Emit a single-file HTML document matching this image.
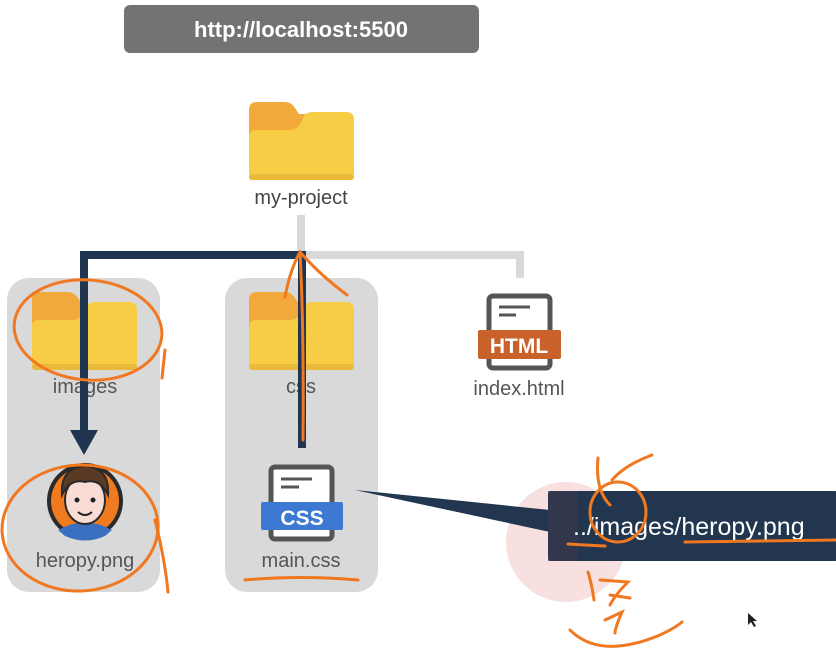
<!DOCTYPE html>
<html><head><meta charset="utf-8"><style>
html,body{margin:0;padding:0;background:#fff;}
svg{display:block;font-family:"Liberation Sans","Noto Sans CJK KR",sans-serif;}
</style></head><body>
<svg width="836" height="649" viewBox="0 0 836 649" xmlns="http://www.w3.org/2000/svg">
<defs>
<g id="folder">
<path d="M0,8 Q0,0 8,0 L36,0 Q42,0 46,6 L50,12 L97,12 Q105,12 105,20 L105,70 Q105,78 97,78 L8,78 Q0,78 0,70 Z" fill="#f2a93b"/>
<path d="M0,34 Q0,28 8,28 L40,28 Q50,28 54,16 Q56,10 64,10 L97,10 Q105,10 105,18 L105,70 Q105,78 97,78 L8,78 Q0,78 0,70 Z" fill="#f7cd45"/>
<rect x="0" y="72" width="105" height="6" rx="3" fill="#e8b93a"/>
</g>
</defs>
<!-- top label -->
<rect x="124" y="5" width="355" height="48" rx="6" fill="#737373"/>
<text x="301" y="37" font-size="22" font-weight="bold" fill="#fff" text-anchor="middle">http://localhost:5500</text>
<!-- my-project -->
<use href="#folder" x="249" y="102"/>
<text x="301" y="204" font-size="20" fill="#444" text-anchor="middle">my-project</text>
<!-- gray tree -->
<path d="M301,215 V255 M82,255 H520 V278" stroke="#d9d9d9" stroke-width="8" fill="none"/>
<!-- panels -->
<rect x="7" y="278" width="153" height="314" rx="22" fill="#d9d9d9"/>
<rect x="225" y="278" width="153" height="314" rx="22" fill="#d9d9d9"/>
<use href="#folder" x="32" y="292"/>
<use href="#folder" x="249" y="292"/>
<text x="85" y="393" font-size="20" fill="#555" text-anchor="middle">images</text>
<text x="301" y="393" font-size="20" fill="#555" text-anchor="middle">css</text>
<!-- navy path -->
<path d="M84,432 V255 H302 V448" stroke="#1f3550" stroke-width="8" fill="none"/>
<polygon points="70,430 98,430 84,455" fill="#1f3550"/>
<!-- avatar -->
<circle cx="85" cy="501" r="38" fill="#2a2a2a"/>
<circle cx="85" cy="501" r="34" fill="#f07a1e"/>
<path d="M58,530 Q85,515 112,530 L105,536 Q85,545 65,536Z" fill="#3a6fc0"/>
<ellipse cx="85" cy="500" rx="20" ry="24" fill="#f8dcd5" stroke="#2a2a2a" stroke-width="2"/>
<path d="M62,495 Q60,468 85,466 Q110,468 108,495 Q100,478 85,482 Q70,478 62,495Z" fill="#5a3a25" stroke="#2a2a2a" stroke-width="2"/>
<circle cx="77" cy="500" r="2.5" fill="#222"/><circle cx="93" cy="500" r="2.5" fill="#222"/>
<path d="M78,512 Q85,518 92,512" stroke="#222" stroke-width="2" fill="none"/>
<text x="85" y="567" font-size="20" fill="#555" text-anchor="middle">heropy.png</text>
<!-- css file -->
<rect x="271" y="467" width="61" height="72" rx="4" fill="#fff" stroke="#555" stroke-width="5"/>
<path d="M281,479 H312 M281,487 H299" stroke="#555" stroke-width="3"/>
<rect x="261" y="502" width="82" height="28" rx="2" fill="#3d78d3"/>
<text x="302" y="525" font-size="21" font-weight="bold" fill="#fff" text-anchor="middle">CSS</text>
<text x="301" y="567" font-size="20" fill="#555" text-anchor="middle">main.css</text>
<!-- html file -->
<rect x="489" y="296" width="61" height="72" rx="4" fill="#fff" stroke="#555" stroke-width="5"/>
<path d="M499,307 H530 M499,315 H516" stroke="#555" stroke-width="3"/>
<rect x="478" y="330" width="83" height="29" rx="2" fill="#c9622a"/>
<text x="519" y="353" font-size="21" font-weight="bold" fill="#fff" text-anchor="middle">HTML</text>
<text x="519" y="395" font-size="20" fill="#555" text-anchor="middle">index.html</text>
<!-- callout -->
<circle cx="566" cy="542" r="60" fill="#f8e0e1"/>
<polygon points="355,490 550,510 550,532" fill="#22364f"/>
<rect x="548" y="491" width="290" height="70" rx="3" fill="#22364f"/>
<rect x="548" y="491" width="30" height="70" fill="#40384f" opacity="0.6"/>
<text x="573" y="535" font-size="25" fill="#fff">../images/heropy.png</text>
<!-- orange annotations -->
<g stroke="#f07820" stroke-width="3" fill="none" stroke-linecap="round">
<ellipse cx="88" cy="330" rx="74" ry="50" transform="rotate(5 88 330)"/>
<path d="M165,350 L162,378"/>
<ellipse cx="80" cy="528" rx="78" ry="63" transform="rotate(-3 80 528)"/>
<path d="M155,520 Q165,560 168,592"/>
<path d="M285,297 Q290,270 300,252 Q320,275 347,295 M300,252 Q304,330 303,440"/>
<path d="M245,580 Q300,575 358,580"/>
<path d="M598,458 Q595,490 610,505 M652,455 Q625,465 612,480"/>
<ellipse cx="618" cy="512" rx="28" ry="30"/>
<path d="M568,544 Q583,545 605,546 M685,542 Q740,541 836,540"/>
<path d="M588,572 Q592,585 594,600 M600,580 L628,582 Q615,595 610,605 M610,595 L630,598 M605,620 L622,612 Q615,628 615,633 M570,630 Q600,660 660,635 Q675,628 682,622"/>
</g>
<path d="M748,613 L748,625 L751,622 L754,627 L756,626 L753,621 L757,621 Z" fill="#222"/>
</svg>
</body></html>
